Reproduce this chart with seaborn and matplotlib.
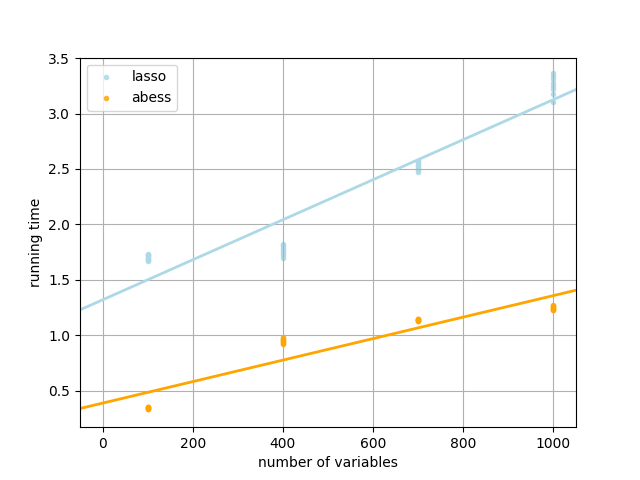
import matplotlib
matplotlib.use("Agg")
import matplotlib.pyplot as plt
import seaborn as sns
import numpy as np
import pandas as pd

x_vals = [100]*8 + [400]*8 + [700]*8 + [1000]*8
lasso = [1.67, 1.68, 1.69, 1.70, 1.71, 1.72, 1.72, 1.73,
         1.70, 1.72, 1.74, 1.76, 1.78, 1.80, 1.81, 1.82,
         2.47, 2.49, 2.51, 2.53, 2.54, 2.55, 2.56, 2.57,
         3.10, 3.18, 3.22, 3.25, 3.28, 3.31, 3.34, 3.37]
abess = [0.33, 0.33, 0.34, 0.34, 0.34, 0.35, 0.35, 0.35,
         0.92, 0.93, 0.94, 0.95, 0.96, 0.97, 0.97, 0.98,
         1.13, 1.13, 1.14, 1.14, 1.14, 1.15, 1.15, 1.15,
         1.23, 1.23, 1.24, 1.25, 1.25, 1.26, 1.26, 1.27]

df = pd.DataFrame({"x": x_vals, "lasso": lasso, "abess": abess})

fig, ax = plt.subplots(figsize=(6.4, 4.8), dpi=100)
ax.set_xlim(-50, 1050)
sns.regplot(data=df, x="x", y="lasso", ax=ax, ci=None, truncate=False, marker=".",
            color="lightblue", label="lasso", line_kws={"lw": 2})
sns.regplot(data=df, x="x", y="abess", ax=ax, ci=None, truncate=False, marker=".",
            color="orange", label="abess", line_kws={"lw": 2})
ax.set_xlim(-50, 1050)
ax.set_ylim(0.17, 3.505)
ax.grid(True)
ax.set_xlabel("number of variables")
ax.set_ylabel("running time")
ax.legend(loc="upper left")
fig.savefig("out.png", dpi=100)
